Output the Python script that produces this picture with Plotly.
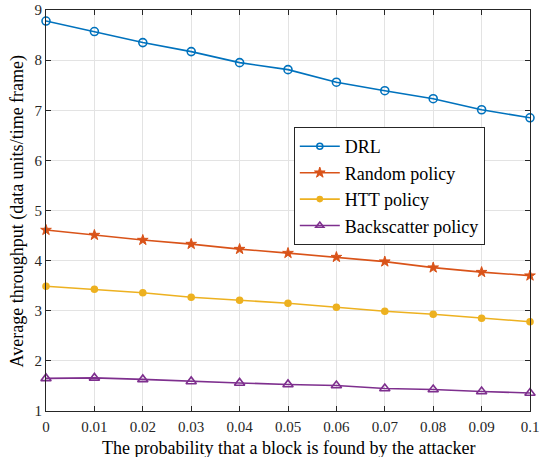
import plotly.graph_objects as go

x_vals = [0, 0.01, 0.02, 0.03, 0.04, 0.05, 0.06, 0.07, 0.08, 0.09, 0.1]
x_tick_labels = ["0", "0.01", "0.02", "0.03", "0.04", "0.05", "0.06", "0.07", "0.08", "0.09", "0.1"]
drl = [8.78, 8.57, 8.35, 8.17, 7.95, 7.81, 7.56, 7.39, 7.23, 7.01, 6.85]
random_policy = [4.61, 4.51, 4.41, 4.33, 4.23, 4.15, 4.07, 3.98, 3.86, 3.77, 3.70]
htt_policy = [3.49, 3.43, 3.36, 3.27, 3.21, 3.15, 3.07, 2.99, 2.93, 2.85, 2.78]
backscatter_policy = [1.65, 1.66, 1.63, 1.59, 1.56, 1.53, 1.51, 1.45, 1.43, 1.39, 1.36]
x_title = "The probability that a block is found by the attacker"
y_title = "Average throughput (data units/time frame)"

FONT = "Times New Roman, Liberation Serif, serif"

series = [
    ("DRL", drl, "#0072BD", "circle-open", 8, 6, 1.6),
    ("Random policy", random_policy, "#D95319", "star", 8, 8, 1.0),
    ("HTT policy", htt_policy, "#EDB120", "circle", 6, 5, 1.6),
    ("Backscatter policy", backscatter_policy, "#7E2F8E", "triangle-up-open", 9, 7, 1.6),
]

fig = go.Figure()
for name, ys, color, sym, sz, lsz, mlw in series:
    fig.add_trace(go.Scatter(
        x=x_vals, y=ys, name=name, mode="lines+markers", showlegend=False,
        line=dict(color=color, width=1.6),
        marker=dict(symbol=sym, size=sz, color=color, line=dict(color=color, width=mlw)),
        cliponaxis=False,
    ))
for name, ys, color, sym, sz, lsz, mlw in series:
    fig.add_trace(go.Scatter(
        x=[None], y=[None], name=name, mode="lines+markers", showlegend=True,
        line=dict(color=color, width=1.6),
        marker=dict(symbol=sym, size=lsz, color=color, line=dict(color=color, width=mlw)),
    ))

axis_common = dict(
    showline=True, linecolor="#262626", linewidth=1, mirror="ticks",
    ticks="inside", ticklen=5, tickcolor="#262626",
    showgrid=True, gridcolor="#E3E3E3", gridwidth=1, zeroline=False,
    tickfont=dict(family=FONT, size=15, color="#262626"),
    automargin=False,
)

fig.update_layout(
    width=541, height=457,
    margin=dict(l=46, r=11, t=10, b=46),
    paper_bgcolor="white", plot_bgcolor="white",
    font=dict(family=FONT, color="#262626"),
    xaxis=dict(range=[0, 0.1], tickvals=x_vals, ticktext=x_tick_labels,
               ticklabelstandoff=2, **axis_common),
    yaxis=dict(range=[1, 9], tickvals=[1, 2, 3, 4, 5, 6, 7, 8, 9], **axis_common),
    legend=dict(x=0.512, y=0.708, xanchor="left", yanchor="top",
                bgcolor="white", bordercolor="#262626", borderwidth=1,
                font=dict(family=FONT, size=18, color="#000000"),
                tracegroupgap=0, itemwidth=40),
    showlegend=True,
    annotations=[
        dict(text=x_title, xref="paper", yref="paper", x=0.5, y=-0.0923,
             xanchor="center", yanchor="middle", showarrow=False,
             font=dict(family=FONT, size=18, color="#000000")),
        dict(text=y_title, xref="paper", yref="paper", x=-0.0579, y=0.5,
             xanchor="center", yanchor="middle", showarrow=False, textangle=-90,
             font=dict(family=FONT, size=18, color="#000000")),
    ],
)

fig.write_html("out.html")
